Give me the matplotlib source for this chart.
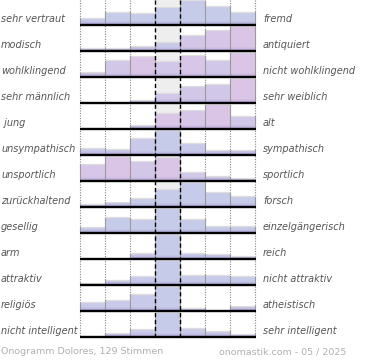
import matplotlib
matplotlib.use("Agg")
import matplotlib.pyplot as plt
import numpy as np

left_labels = ["sehr vertraut", "modisch", "wohlklingend", "sehr männlich", " jung",
               "unsympathisch", "unsportlich", "zurückhaltend", "gesellig", "arm",
               "attraktiv", "religiös", "nicht intelligent"]
right_labels = ["fremd", "antiquiert", "nicht wohlklingend", "sehr weiblich", "alt",
                "sympathisch", "sportlich", "forsch", "einzelgängerisch", "reich",
                "nicht attraktiv", "atheistisch", "sehr intelligent"]

# relative vote shares per answer step (7 steps)
shares = [
    [6.7, 12.7, 11.7, 17.7, 24.0, 18.7, 12.3],
    [2.7, 2.7, 5.3, 8.7, 16.0, 21.0, 25.0],
    [4.3, 16.0, 20.5, 15.3, 21.0, 16.5, 24.0],
    [0.0, 0.0, 3.0, 9.7, 17.0, 19.0, 24.7],
    [0.0, 0.0, 4.0, 15.7, 18.5, 24.0, 12.3],
    [6.7, 5.7, 16.7, 24.0, 11.7, 5.0, 5.0],
    [16.7, 24.3, 20.0, 24.0, 8.7, 4.3, 2.3],
    [2.7, 4.7, 8.7, 18.0, 24.3, 14.3, 10.3],
    [6.0, 15.5, 13.5, 24.5, 13.7, 6.3, 6.3],
    [0.0, 0.0, 5.3, 24.5, 5.3, 5.0, 2.3],
    [1.7, 4.8, 8.6, 24.5, 10.0, 9.3, 8.3],
    [8.7, 11.0, 17.0, 24.3, 2.7, 0.0, 4.5],
    [0.0, 3.7, 7.7, 24.7, 8.7, 6.0, 2.7],
]
# tint of each bar (0 = blue, 1 = pink)
pink_tint = [
    [0.1, 0.1, 0.1, 0.1, 0.1, 0.1, 0.1],
    [0.5, 0.5, 0.4, 0.2, 0.6, 0.8, 0.9],
    [0.5, 0.6, 0.9, 0.5, 0.8, 0.5, 0.9],
    [0.0, 0.0, 0.5, 0.5, 0.6, 0.5, 0.9],
    [0.0, 0.0, 0.5, 0.9, 0.8, 0.9, 0.5],
    [0.2, 0.2, 0.2, 0.1, 0.2, 0.3, 0.3],
    [0.8, 0.9, 0.6, 0.9, 0.5, 0.5, 0.5],
    [0.1, 0.1, 0.1, 0.1, 0.1, 0.1, 0.1],
    [0.1, 0.1, 0.1, 0.1, 0.1, 0.1, 0.1],
    [0.1, 0.1, 0.3, 0.1, 0.1, 0.1, 0.1],
    [0.1, 0.1, 0.1, 0.1, 0.1, 0.1, 0.1],
    [0.2, 0.2, 0.2, 0.1, 0.2, 0.2, 0.2],
    [0.2, 0.2, 0.2, 0.1, 0.2, 0.2, 0.2],
]
footer_left = "Onogramm Dolores, 129 Stimmen"
footer_right = "onomastik.com - 05 / 2025"

# layout (pixel coordinates)
W, H = 370, 360
X0, COLW, NCOL = 80.0, 25.0, 7
Y0, ROWH = 25.0, 26.0
BARMAX = 24.5

fig = plt.figure(figsize=(W / 100, H / 100), dpi=100)
ax = fig.add_axes([0, 0, 1, 1])
ax.set_xlim(0, W)
ax.set_ylim(H, 0)
ax.axis("off")

blue = np.array([196, 204, 234]) / 255
pink = np.array([221, 196, 231]) / 255
dark = np.array([150, 135, 195]) / 255

nrows = len(shares)
xr = X0 + COLW * NCOL
ybot = Y0 + ROWH * (nrows - 1)

# center column background
ax.add_patch(plt.Rectangle((X0 + 3 * COLW, 0), COLW, ybot, color="#eeeeee", lw=0, zorder=0))

# dotted verticals
for i in [0, 1, 2, 5, 6, 7]:
    ax.plot([X0 + i * COLW] * 2, [0, ybot], color="#888888", lw=0.8,
            linestyle=(0, (1, 1.3)), zorder=1)

for r in range(nrows):
    base = Y0 + r * ROWH
    vals = np.array(shares[r], dtype=float)
    hs = vals / vals.max() * BARMAX
    lefts = X0 + COLW * np.arange(NCOL)
    cols = [tuple(blue * (1 - t) + pink * t) for t in pink_tint[r]]
    ax.bar(lefts, -hs, bottom=base, width=COLW, align="edge", color=cols,
           lw=0, zorder=2)
    # darker band near baseline
    for k, a in enumerate([0.5, 0.35, 0.2, 0.1]):
        hk = np.clip(hs - k, 0, 1)
        ax.bar(lefts, -hk, bottom=base - k, width=COLW, align="edge",
               color=tuple(dark), alpha=a, lw=0, zorder=3)
    # top highlight
    for j in range(NCOL):
        if hs[j] > 0.5:
            ax.plot([lefts[j], lefts[j] + COLW], [base - hs[j] - 0.3] * 2,
                    color="#dddddd", lw=0.9, zorder=4, solid_capstyle="butt")
    # vertical gray edges between bars
    for j in range(NCOL + 1):
        hl = hs[j - 1] if j > 0 else 0
        hr = hs[j] if j < NCOL else 0
        hmax = max(hl, hr)
        if hmax > 0.5:
            ax.plot([X0 + j * COLW] * 2, [base, base - hmax], color="#9a9a9a",
                    lw=0.8, zorder=4)
    # baseline
    ax.plot([X0, xr + 1], [base, base], color="black", lw=1.7, zorder=6,
            solid_capstyle="butt")
    ax.text(1, base - 5.5, left_labels[r], fontsize=7, style="italic",
            color="#555555", ha="left", va="center", zorder=7)
    ax.text(263, base - 5.5, right_labels[r], fontsize=7, style="italic",
            color="#555555", ha="left", va="center", zorder=7)

# dashed verticals around center column
for i in [3, 4]:
    ax.plot([X0 + i * COLW] * 2, [0, ybot], color="black", lw=1.0,
            linestyle=(0, (3, 2)), zorder=5)

ax.text(1, 352, footer_left, fontsize=6.8, color="#b0b0b0", ha="left", va="center")
ax.text(346, 352, footer_right, fontsize=6.8, color="#b0b0b0", ha="right", va="center")

fig.savefig("out.png", dpi=100)
